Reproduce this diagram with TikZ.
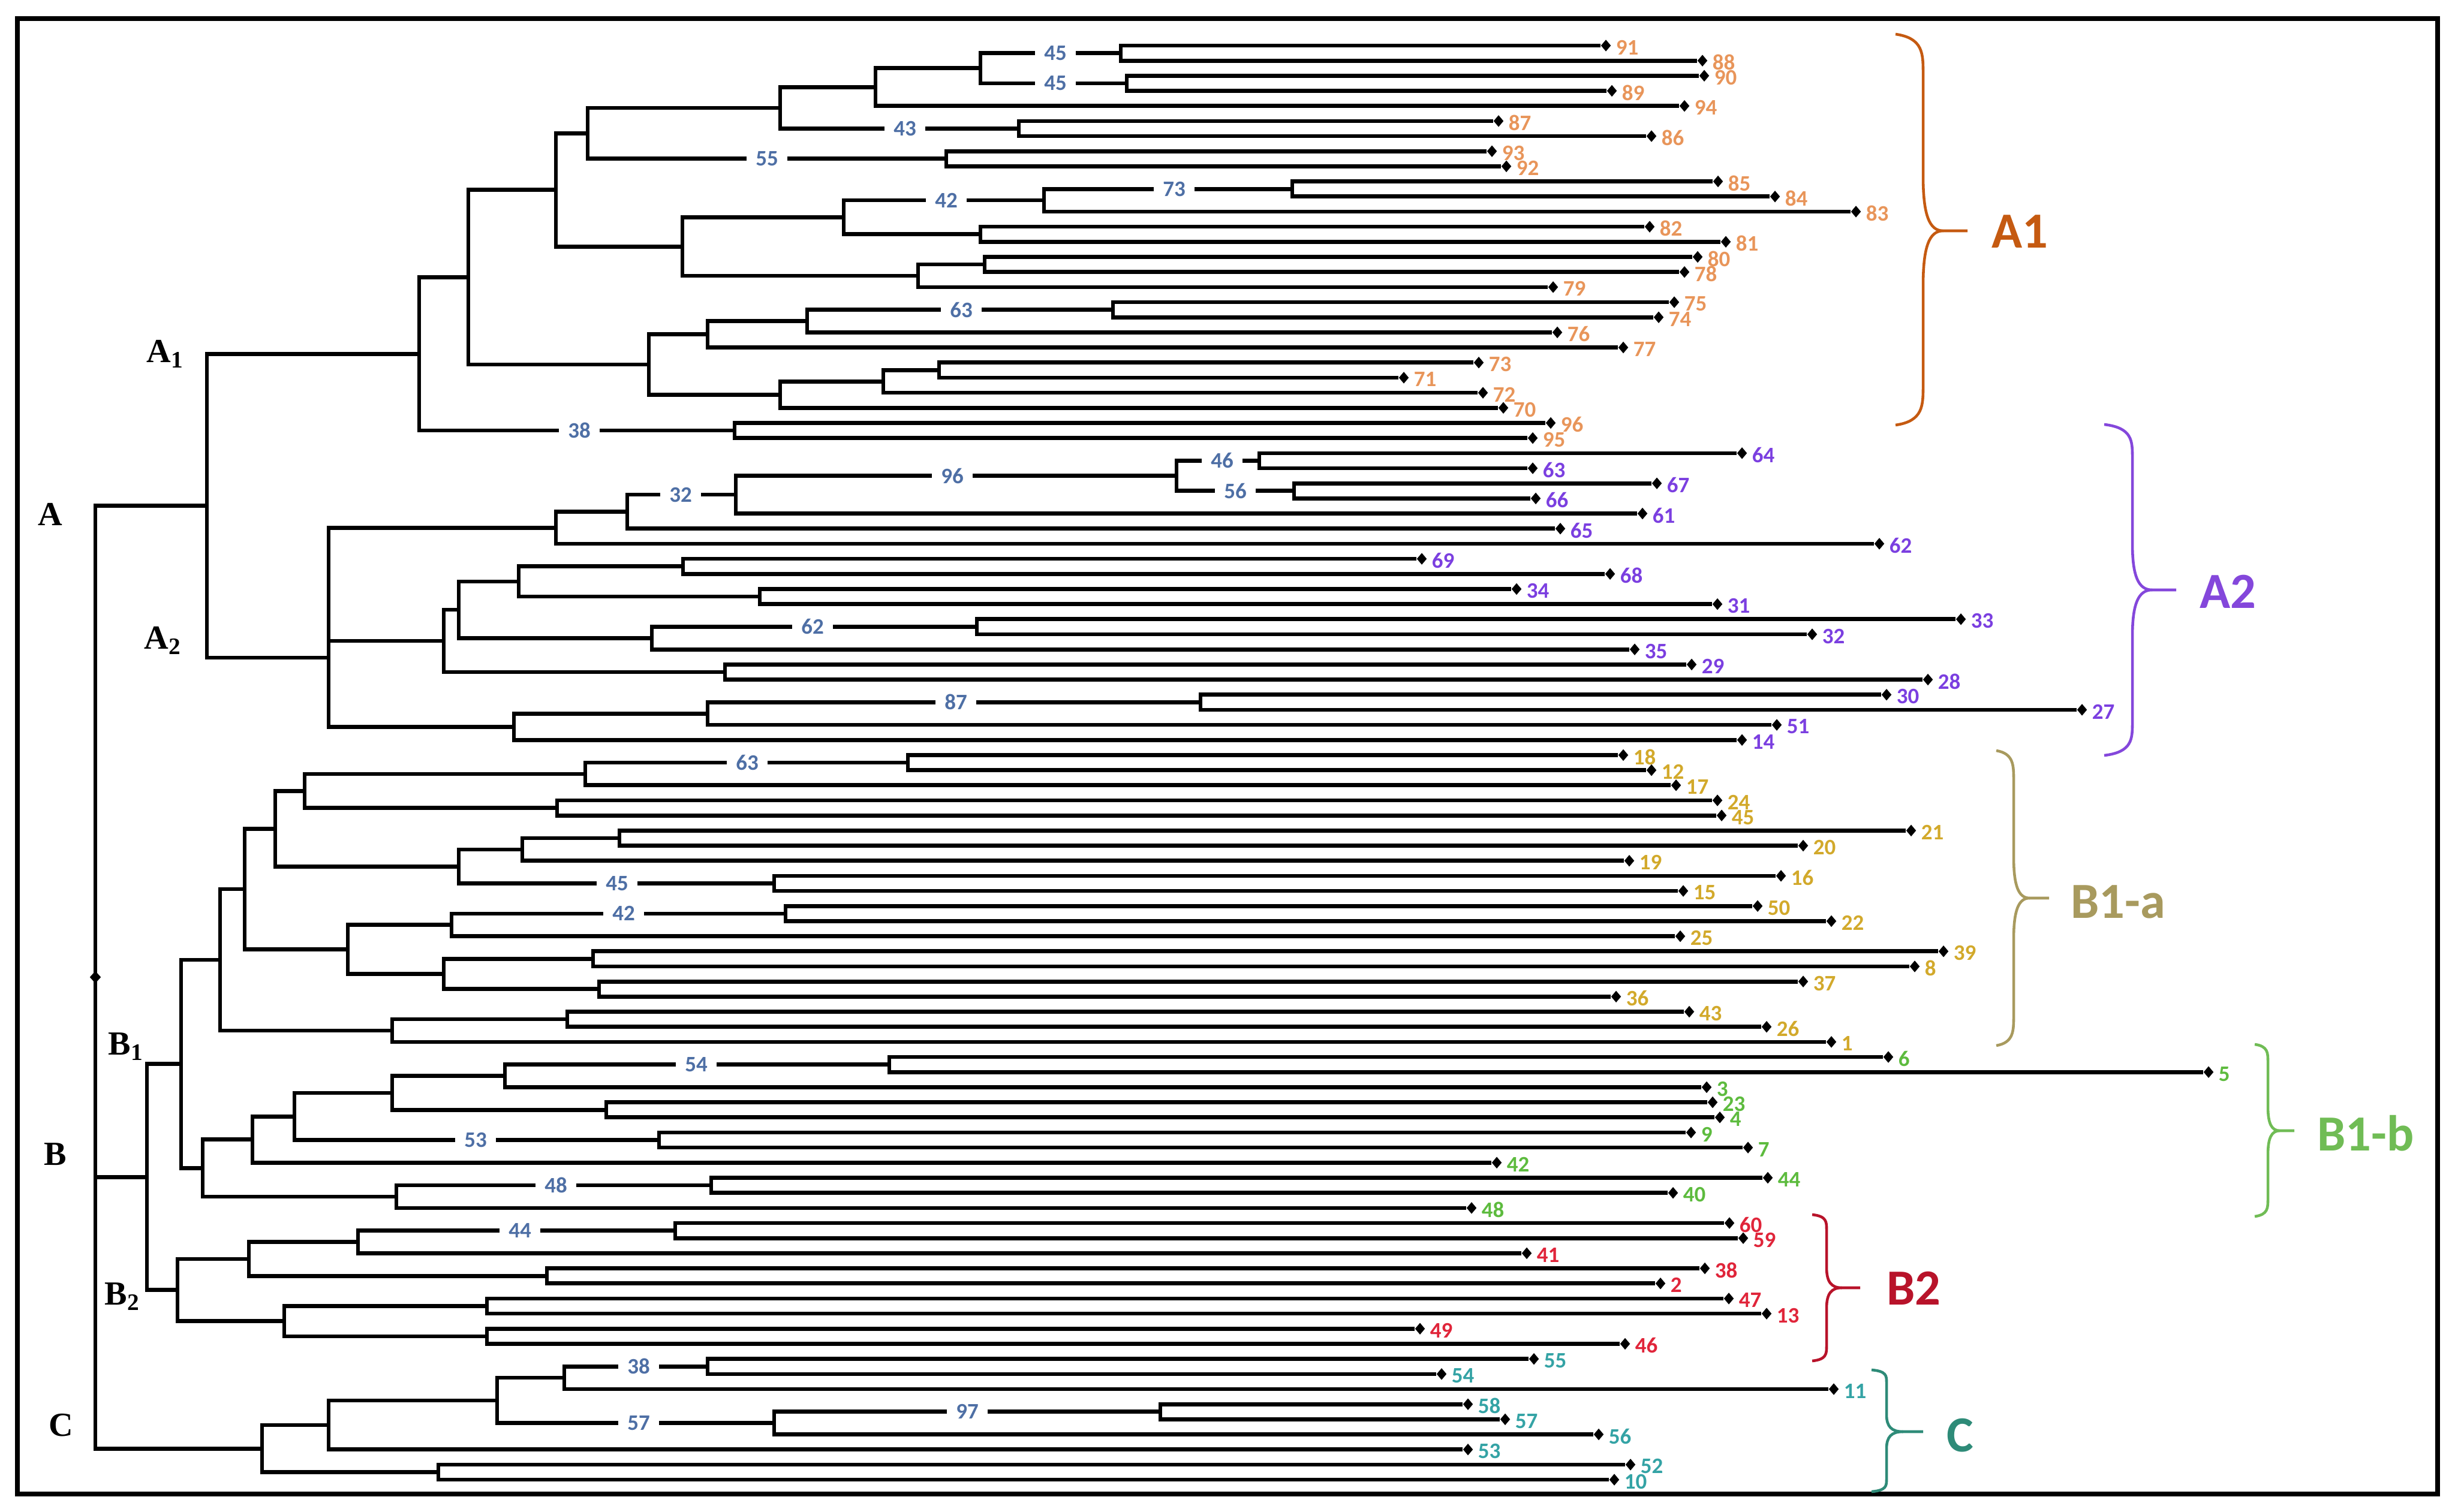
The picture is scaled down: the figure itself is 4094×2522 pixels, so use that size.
\documentclass[tikz,border=0pt]{standalone}
\usepackage{fontspec}
\setmainfont{Liberation Serif}
\newfontfamily\carl{Carlito}
\usetikzlibrary{calc,shapes.geometric}
\definecolor{oL}{HTML}{E8955A}
\definecolor{oG}{HTML}{C55A11}
\definecolor{pL}{HTML}{7B3FE0}
\definecolor{pG}{HTML}{8447DB}
\definecolor{yL}{HTML}{D2A92B}
\definecolor{yG}{HTML}{A89A5E}
\definecolor{gL}{HTML}{5DBB3E}
\definecolor{gG}{HTML}{70BC55}
\definecolor{rL}{HTML}{E0253A}
\definecolor{rG}{HTML}{B8132A}
\definecolor{cL}{HTML}{34A3A5}
\definecolor{cG}{HTML}{2E8B78}
\definecolor{bsC}{HTML}{4E6FA5}
% leaf: index, end x, number, colour
\newcommand\lf[4]{\node[mk,label={[leaflab,text=#4]east:#3}] (l#3) at (#2,{76+25.18*#1}) {};}
% internal node: name, x, child1, child2
\newcommand\inn[4]{\coordinate (#1) at ($(#3 -| O)!0.5!(#4 -| O)+(#2,0)$);
  \draw[tline] (#3) -- (#3 -| #1) -- (#4 -| #1) -- (#4);}
% bootstrap: name, x, child, text
\newcommand\bs[4]{\node[bsl] (#1) at ($(#3 -| O)+(#2,0)$) {#4};}
% brace: colour, xe, xs, xt, ytop, ymid, ybot
\newcommand\brc[7]{%
  \pgfmathsetmacro\brcH{(#7-#5)/2}%
  \pgfmathsetmacro\brcA{0.2*\brcH}%
  \pgfmathsetmacro\brcB{0.28*\brcH}%
  \pgfmathsetmacro\brcX{#3+0.45*(#4-#3)}%
  \draw[brcs,#1] (#2,#5) .. controls (#3,{#5+0.1*\brcA}) and (#3,{#5+0.5*\brcA}) .. (#3,{#5+\brcA})
     -- (#3,{#6-\brcB}) .. controls (#3,{#6-0.3*\brcB}) and ({#3+0.3*(\brcX-#3)},#6) .. (\brcX,#6) -- (#4,#6);
  \draw[brcs,#1] (#2,#7) .. controls (#3,{#7-0.1*\brcA}) and (#3,{#7-0.5*\brcA}) .. (#3,{#7-\brcA})
     -- (#3,{#6+\brcB}) .. controls (#3,{#6+0.3*\brcB}) and ({#3+0.3*(\brcX-#3)},#6) .. (\brcX,#6);}
\begin{document}
\begin{tikzpicture}[x=0.01cm,y=-0.01cm,
  mk/.style={diamond,fill=black,inner sep=0pt,minimum width=0.17cm,minimum height=0.2cm},
  leaflab/.style={font=\carl\bfseries\fontsize{10.5}{10.5}\selectfont,inner xsep=2pt,inner ysep=0pt,yshift=-0.03cm},
  tline/.style={line width=1.9pt,line join=miter},
  bsl/.style={fill=white,text=bsC,font=\carl\bfseries\fontsize{10.5}{10.5}\selectfont,inner xsep=0.15cm,inner ysep=0.02cm},
  brcs/.style={line width=1.3pt},
  grp/.style={font=\carl\bfseries\fontsize{24}{24}\selectfont},
  treelab/.style={font=\bfseries\fontsize{16}{16}\selectfont}]
\useasboundingbox (0,0) rectangle (4094,2522);
\draw[line width=2.2pt] (29,31) rectangle (4065,2492);
\coordinate (O) at (0,0);
% ---------- leaves ----------
\lf{0}{2678}{91}{oL}\lf{1}{2839}{88}{oL}\lf{2}{2842}{90}{oL}\lf{3}{2688}{89}{oL}
\lf{4}{2809}{94}{oL}\lf{5}{2499}{87}{oL}\lf{6}{2754}{86}{oL}\lf{7}{2488}{93}{oL}
\lf{8}{2512}{92}{oL}\lf{9}{2865}{85}{oL}\lf{10}{2960}{84}{oL}\lf{11}{3095}{83}{oL}
\lf{12}{2751}{82}{oL}\lf{13}{2878}{81}{oL}\lf{14}{2831}{80}{oL}\lf{15}{2809}{78}{oL}
\lf{16}{2590}{79}{oL}\lf{17}{2792}{75}{oL}\lf{18}{2766}{74}{oL}\lf{19}{2597}{76}{oL}
\lf{20}{2707}{77}{oL}\lf{21}{2466}{73}{oL}\lf{22}{2341}{71}{oL}\lf{23}{2473}{72}{oL}
\lf{24}{2507}{70}{oL}\lf{25}{2586}{96}{oL}\lf{26}{2556}{95}{oL}
\lf{27}{2905}{64}{pL}\lf{28}{2556}{63}{pL}\lf{29}{2763}{67}{pL}\lf{30}{2561}{66}{pL}
\lf{31}{2739}{61}{pL}\lf{32}{2602}{65}{pL}\lf{33}{3134}{62}{pL}\lf{34}{2371}{69}{pL}
\lf{35}{2685}{68}{pL}\lf{36}{2529}{34}{pL}\lf{37}{2864}{31}{pL}\lf{38}{3270}{33}{pL}
\lf{39}{3022}{32}{pL}\lf{40}{2726}{35}{pL}\lf{41}{2821}{29}{pL}\lf{42}{3215}{28}{pL}
\lf{43}{3146}{30}{pL}\lf{44}{3472}{27}{pL}\lf{45}{2963}{51}{pL}\lf{46}{2905}{14}{pL}
\lf{47}{2707}{18}{yL}\lf{48}{2754}{12}{yL}\lf{49}{2795}{17}{yL}\lf{50}{2864}{24}{yL}
\lf{51}{2871}{45}{yL}\lf{52}{3187}{21}{yL}\lf{53}{3007}{20}{yL}\lf{54}{2717}{19}{yL}
\lf{55}{2970}{16}{yL}\lf{56}{2807}{15}{yL}\lf{57}{2931}{50}{yL}\lf{58}{3054}{22}{yL}
\lf{59}{2802}{25}{yL}\lf{60}{3241}{39}{yL}\lf{61}{3193}{8}{yL}\lf{62}{3007}{37}{yL}
\lf{63}{2695}{36}{yL}\lf{64}{2817}{43}{yL}\lf{65}{2946}{26}{yL}\lf{66}{3054}{1}{yL}
\lf{67}{3149}{6}{gL}\lf{68}{3683}{5}{gL}\lf{69}{2846}{3}{gL}\lf{70}{2856}{23}{gL}
\lf{71}{2868}{4}{gL}\lf{72}{2820}{9}{gL}\lf{73}{2915}{7}{gL}\lf{74}{2496}{42}{gL}
\lf{75}{2948}{44}{gL}\lf{76}{2790}{40}{gL}\lf{77}{2454}{48}{gL}
\lf{78}{2884}{60}{rL}\lf{79}{2907}{59}{rL}\lf{80}{2546}{41}{rL}\lf{81}{2843}{38}{rL}
\lf{82}{2769}{2}{rL}\lf{83}{2883}{47}{rL}\lf{84}{2946}{13}{rL}\lf{85}{2368}{49}{rL}
\lf{86}{2710}{46}{rL}
\lf{87}{2558}{55}{cL}\lf{88}{2404}{54}{cL}\lf{89}{3058}{11}{cL}\lf{90}{2448}{58}{cL}
\lf{91}{2510}{57}{cL}\lf{92}{2666}{56}{cL}\lf{93}{2448}{53}{cL}\lf{94}{2719}{52}{cL}
\lf{95}{2692}{10}{cL}
% ---------- A1 ----------
\inn{n1}{1869}{l91}{l88}\inn{n2}{1879}{l90}{l89}\inn{n3}{1635}{n1}{n2}
\inn{n4}{1460}{n3}{l94}\inn{n5}{1699}{l87}{l86}\inn{n6}{1301}{n4}{n5}
\inn{n7}{1578}{l93}{l92}\inn{n8}{980}{n6}{n7}
\inn{n9}{2155}{l85}{l84}\inn{n10}{1741}{n9}{l83}\inn{n11}{1635}{l82}{l81}
\inn{n12}{1407}{n10}{n11}\inn{n13}{1642}{l80}{l78}\inn{n14}{1531}{n13}{l79}
\inn{n15}{1138}{n12}{n14}\inn{n16}{927}{n8}{n15}
\inn{n17}{1856}{l75}{l74}\inn{n18}{1346}{n17}{l76}\inn{n19}{1180}{n18}{l77}
\inn{n20}{1566}{l73}{l71}\inn{n21}{1473}{n20}{l72}\inn{n22}{1301}{n21}{l70}
\inn{n23}{1082}{n19}{n22}\inn{n24}{781}{n16}{n23}
\inn{n25}{1225}{l96}{l95}\inn{nA1}{699}{n24}{n25}
% ---------- A2 ----------
\inn{m1}{2100}{l64}{l63}\inn{m2}{2158}{l67}{l66}\inn{m3}{1962}{m1}{m2}
\inn{m4}{1227}{m3}{l61}\inn{m5}{1046}{m4}{l65}\inn{m6}{927}{m5}{l62}
\inn{m7}{1139}{l69}{l68}\inn{m8}{1267}{l34}{l31}\inn{m9}{865}{m7}{m8}
\inn{m10}{1629}{l33}{l32}\inn{m11}{1087}{m10}{l35}\inn{m12}{765}{m9}{m11}
\inn{m13}{1209}{l29}{l28}\inn{m14}{740}{m12}{m13}
\inn{m15}{2002}{l30}{l27}\inn{m16}{1180}{m15}{l51}\inn{m17}{857}{m16}{l14}
\coordinate (nA2) at (548,1097);
\draw[tline] (m6) -- (m6 -| nA2) -- (m17 -| nA2) -- (m17);
\draw[tline] (m14 -| nA2) -- (m14);
\inn{nA}{345}{nA1}{nA2}
% ---------- B1-a ----------
\inn{p1}{1514}{l18}{l12}\inn{p2}{976}{p1}{l17}\inn{p3}{929}{l24}{l45}
\inn{p4}{508}{p2}{p3}\inn{p5}{1033}{l21}{l20}\inn{p6}{871}{p5}{l19}
\inn{p7}{1291}{l16}{l15}\inn{p8}{765}{p6}{p7}\inn{p9}{459}{p4}{p8}
\inn{p10}{1310}{l50}{l22}\inn{p11}{753}{p10}{l25}\inn{p12}{989}{l39}{l8}
\inn{p13}{999}{l37}{l36}\inn{p14}{740}{p12}{p13}\inn{p15}{580}{p11}{p14}
\inn{p16}{408}{p9}{p15}\inn{p17}{946}{l43}{l26}\inn{p18}{654}{p17}{l1}
\inn{p19}{367}{p16}{p18}
% ---------- B1-b ----------
\inn{q1}{1483}{l6}{l5}\inn{q2}{842}{q1}{l3}\inn{q3}{1011}{l23}{l4}
\inn{q4}{654}{q2}{q3}\inn{q5}{1099}{l9}{l7}\inn{q6}{491}{q4}{q5}
\inn{q7}{421}{q6}{l42}\inn{q8}{1186}{l44}{l40}\inn{q9}{661}{q8}{l48}
\inn{q10}{338}{q7}{q9}\inn{nB1}{302}{p19}{q10}
% ---------- B2 ----------
\inn{r1}{1126}{l60}{l59}\inn{r2}{597}{r1}{l41}\inn{r3}{912}{l38}{l2}
\inn{r4}{415}{r2}{r3}\inn{r5}{812}{l47}{l13}\inn{r6}{812}{l49}{l46}
\inn{r7}{474}{r5}{r6}\inn{nB2}{296}{r4}{r7}\inn{nB}{245}{nB1}{nB2}
% ---------- C ----------
\inn{s1}{1180}{l55}{l54}\inn{s2}{941}{s1}{l11}\inn{s3}{1935}{l58}{l57}
\inn{s4}{1291}{s3}{l56}\inn{s5}{829}{s2}{s4}\inn{s6}{548}{s5}{l53}
\inn{s7}{731}{l52}{l10}\inn{nC}{437}{s6}{s7}
% ---------- root ----------
\inn{nR}{159}{nA}{nC}
\draw[tline] (nB -| nR) -- (nB);
\node[mk,minimum width=0.19cm,minimum height=0.21cm] (rootmk) at (nR) {};
% ---------- bootstrap values ----------
\bs{b1}{1760}{n1}{45}\bs{b2}{1760}{n2}{45}\bs{b3}{1509}{n5}{43}\bs{b4}{1279}{n7}{55}
\bs{b5}{1578}{n10}{42}\bs{b6}{1958}{n9}{73}\bs{b7}{1603}{n17}{63}\bs{b8}{966}{n25}{38}
\bs{b9}{1135}{m4}{32}\bs{b10}{1588}{m3}{96}\bs{b11}{2038}{m1}{46}\bs{b12}{2060}{m2}{56}
\bs{b13}{1355}{m10}{62}\bs{b14}{1594}{m15}{87}\bs{b15}{1246}{p1}{63}\bs{b16}{1029}{p7}{45}
\bs{b17}{1040}{p10}{42}\bs{b18}{1161}{q1}{54}\bs{b19}{793}{q5}{53}\bs{b20}{927}{q8}{48}
\bs{b21}{867}{r1}{44}\bs{b22}{1065}{s1}{38}\bs{b23}{1065}{s4}{57}\bs{b24}{1613}{s3}{97}
% ---------- clade letters ----------
\node[treelab] (tA) at (84,858) {A};
\node[treelab] (tA1) at (276,590) {A\textsubscript{1}};
\node[treelab] (tA2) at (272,1068) {A\textsubscript{2}};
\node[treelab] (tB) at (92,1925) {B};
\node[treelab] (tB1) at (210,1746) {B\textsubscript{1}};
\node[treelab] (tB2) at (204,2163) {B\textsubscript{2}};
\node[treelab] (tC) at (102,2377) {C};
% ---------- braces and group labels ----------
\brc{oG}{3161}{3207}{3281}{57}{385}{709}
\node[grp,text=oG] (gA1) at (3368,386) {A1};
\brc{pG}{3509}{3556}{3629}{708}{984}{1260}
\node[grp,text=pG] (gA2) at (3715,987) {A2};
\brc{yG}{3329}{3358}{3417}{1252}{1498}{1744}
\node[grp,text=yG] (gB1a) at (3532,1504) {B1-a};
\brc{gG}{3760}{3782}{3826}{1742}{1886}{2029}
\node[grp,text=gG] (gB1b) at (3945,1890) {B1-b};
\brc{rG}{3022}{3046}{3102}{2026}{2148}{2270}
\node[grp,text=rG] (gB2) at (3191,2149) {B2};
\brc{cG}{3121}{3146}{3207}{2285}{2388}{2488}
\node[grp,text=cG] (gC) at (3269,2394) {C};
\end{tikzpicture}
\end{document}
